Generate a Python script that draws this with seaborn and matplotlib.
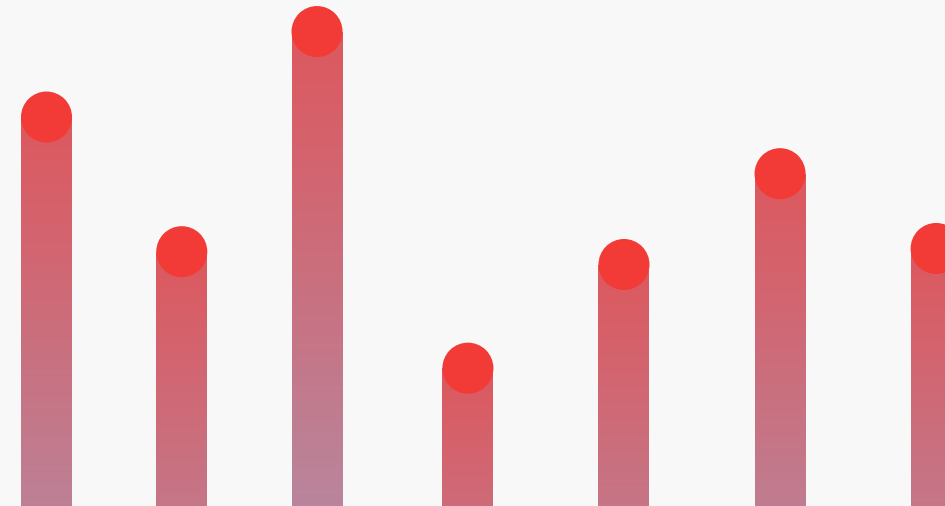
import numpy as np
import pandas as pd
import seaborn as sns
import matplotlib.pyplot as plt
from matplotlib.colors import LinearSegmentedColormap

# Data: day offsets and values
days = [0, 26, 52, 81, 111, 141, 171]
values = [92.0, 79.4, 100.0, 68.5, 78.2, 86.7, 79.7]

df = pd.DataFrame({'day': days, 'value': values})

sns.set_style('white')

fig = plt.figure(figsize=(9.455, 5.065), dpi=100)
fig.patch.set_facecolor('#f8f8f8')
ax = fig.add_axes([0, 0, 1, 1])
ax.set_facecolor('#f8f8f8')

# Bars (drawn transparent, gradient filled below)
sns.barplot(data=df, x='day', y='value', native_scale=True,
            width=9.8 / 26, color='#dd5a5e', ax=ax, zorder=2)

# Gradient from red at top to a bluish tint at the baseline
grad_cmap = LinearSegmentedColormap.from_list('bar_grad', ['#8cbeeb', '#dd585e'])
grad = np.linspace(0, 1, 256).reshape(-1, 1)

for bar in ax.patches:
    x0 = bar.get_x()
    w = bar.get_width()
    h = bar.get_height()
    im = ax.imshow(grad, cmap=grad_cmap, aspect='auto', origin='lower',
                   extent=[x0, x0 + w, 0, h], zorder=2)
    im.set_clip_path(bar)
    bar.set_facecolor('none')
    bar.set_edgecolor('none')

# Round caps on top of each bar
sns.scatterplot(data=df, x='day', y='value', s=1350, color='#f23a36',
                edgecolor='none', ax=ax, zorder=3, legend=False)

ax.set_xlim(-8.94, 172.8)
ax.set_ylim(55.6, 103.0)
ax.axis('off')

fig.savefig('out.png', dpi=100, facecolor=fig.get_facecolor())
